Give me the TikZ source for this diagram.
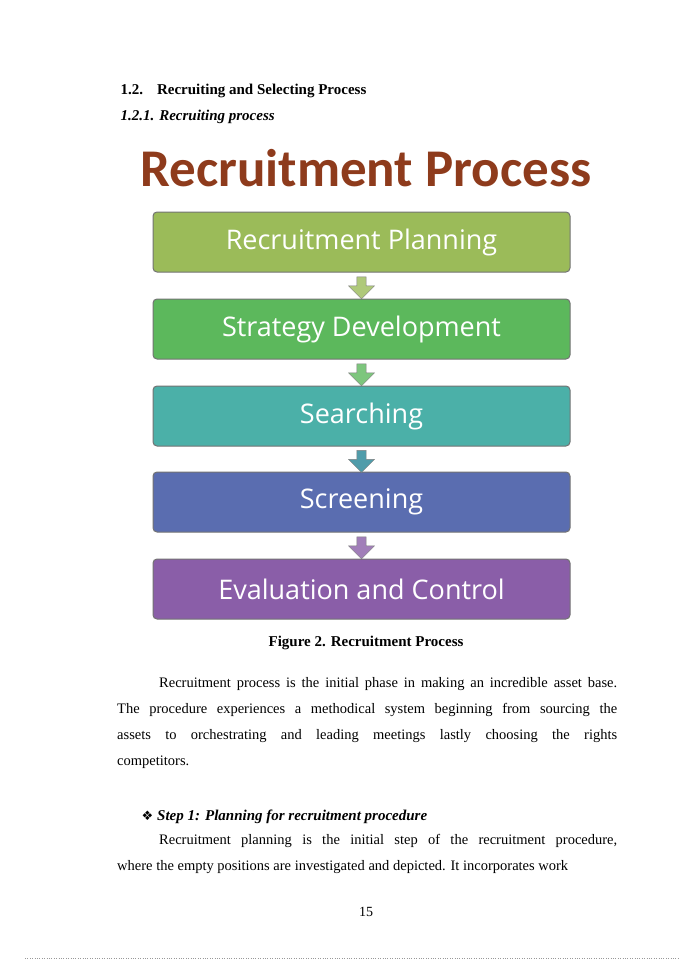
\documentclass[tikz,border=0pt]{standalone}
\usepackage{fontspec}
\setmainfont{Liberation Serif}
\newfontfamily\titlefont{Carlito}
\newfontfamily\boxfont{Open Sans}
\newfontfamily\symfont{DejaVu Sans}
\usetikzlibrary{shapes.arrows,calc}
\definecolor{cA}{HTML}{9BBB59}
\definecolor{cB}{HTML}{5CB85C}
\definecolor{cC}{HTML}{4BB0A8}
\definecolor{cD}{HTML}{5A6DB0}
\definecolor{cE}{HTML}{8A5EA8}
\definecolor{titlec}{HTML}{8E3B1C}
\tikzset{
  stepbox/.style={draw=black!55, line width=1pt, rounded corners=4pt, minimum width=417pt, minimum height=60pt,
    text=white, font=\boxfont\fontsize{27}{30}\selectfont, inner sep=0pt},
  downarr/.style={single arrow, shape border rotate=270, draw=black!50, minimum width=26pt,
    single arrow head extend=4pt, minimum height=22pt, inner sep=2pt},
  para/.style={text width=500pt, align=justify, anchor=north west, inner sep=0pt,
    font=\fontsize{14.5}{26}\selectfont}
}
\begin{document}
\begin{tikzpicture}[x=1pt,y=-1pt]
\useasboundingbox (0,0) rectangle (700,960);
\fill[white] (0,0) rectangle (700,960);
\node[anchor=west, font=\bfseries\fontsize{15}{18}\selectfont] (h1) at (117,91) {1.2.\hspace{14pt}Recruiting and Selecting Process};
\node[anchor=west, font=\bfseries\itshape\fontsize{15}{18}\selectfont] (h2) at (117,117) {1.2.1. Recruiting process};
\node[font=\titlefont\bfseries\fontsize{53}{56}\selectfont, text=titlec] (title) at (366,168) {Recruitment Process};
\node[stepbox, fill=cA] (b1) at (361.5,242) {Recruitment Planning};
\node[stepbox, fill=cB] (b2) at (361.5,329) {Strategy Development};
\node[stepbox, fill=cC] (b3) at (361.5,416) {Searching};
\node[stepbox, fill=cD] (b4) at (361.5,502) {Screening};
\node[stepbox, fill=cE] (b5) at (361.5,589) {Evaluation and Control};
\node[downarr, fill=cA!80] (a1) at ($(b1.south)!0.5!(b2.north)$) {};
\node[downarr, fill=cB!80] (a2) at ($(b2.south)!0.5!(b3.north)$) {};
\node[downarr, fill=cC!70!cD] (a3) at ($(b3.south)!0.5!(b4.north)$) {};
\node[downarr, fill=cE!80] (a4) at ($(b4.south)!0.5!(b5.north)$) {};
\node[font=\bfseries\fontsize{15}{18}\selectfont] (cap) at (366,643) {Figure 2. Recruitment Process};
\node[para] (p1) at (117,677) {\hspace*{42pt}Recruitment process is the initial phase in making an incredible asset base.\linebreak The procedure experiences a methodical system beginning from sourcing the\linebreak assets to orchestrating and leading meetings lastly choosing the rights\linebreak competitors.\par};
\node[anchor=west, font=\bfseries\itshape\fontsize{15}{18}\selectfont] (s1) at (138,817) {{\symfont\fontsize{13}{15}\selectfont ❖}\hspace{4pt}Step 1: Planning for recruitment procedure};
\node[para] (p2) at (117,834) {\hspace*{42pt}Recruitment planning is the initial step of the recruitment procedure,\linebreak where the empty positions are investigated and depicted. It incorporates work\par};
\node[font=\fontsize{14}{16}\selectfont] (pg) at (366,912) {15};
\draw[black!40, dotted] (25,958) -- (680,958);
\end{tikzpicture}
\end{document}
